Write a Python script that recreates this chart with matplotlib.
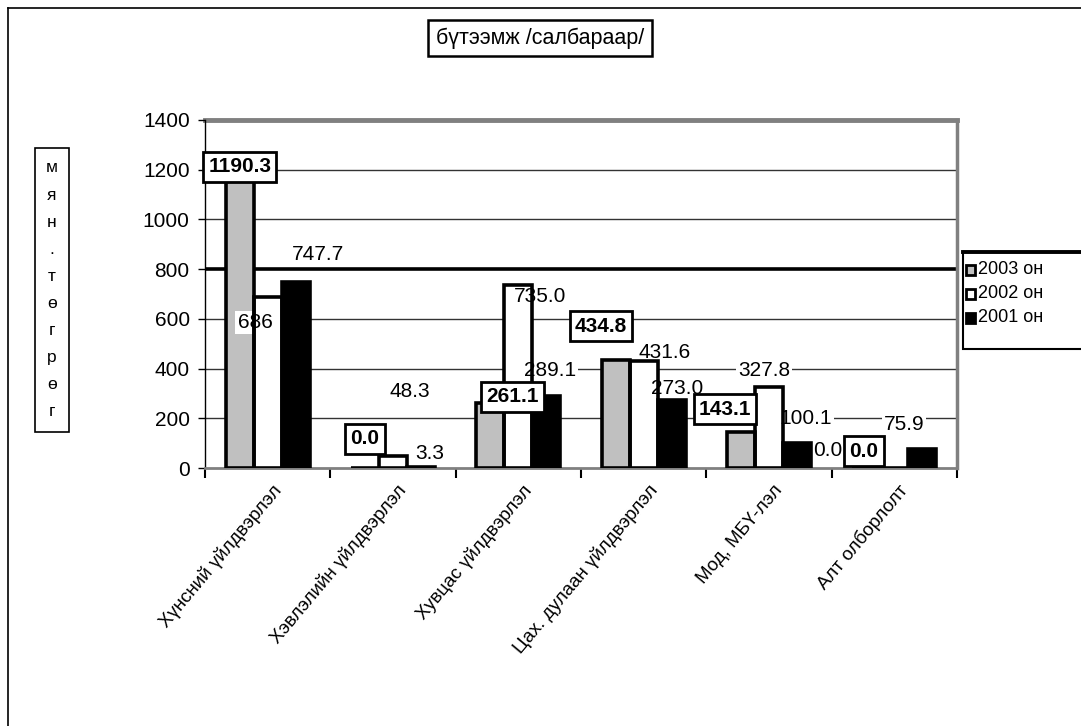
import matplotlib
matplotlib.use("Agg")
import matplotlib.pyplot as plt
import numpy as np
from matplotlib.patches import Rectangle
from matplotlib.lines import Line2D

plt.rcParams["font.family"] = ["Liberation Sans", "DejaVu Sans"]

categories = ["Хүнсний үйлдвэрлэл", "Хэвлэлийн үйлдвэрлэл", "Хувцас үйлдвэрлэл",
              "Цах. дулаан үйлдвэрлэл", "Мод, МБҮ-лэл", "Алт олборлолт"]
series_names = ["2003 он", "2002 он", "2001 он"]
v2003 = [1190.3, 0.0, 261.1, 434.8, 143.1, 0.0]
v2002 = [686, 48.3, 735.0, 431.6, 327.8, 0.0]
v2001 = [747.7, 3.3, 289.1, 273.0, 100.1, 75.9]
lab2003 = ["1190.3", "0.0", "261.1", "434.8", "143.1", "0.0"]
lab2002 = ["686", "48.3", "735.0", "431.6", "327.8", "0.0"]
lab2001 = ["747.7", "3.3", "289.1", "273.0", "100.1", "75.9"]
yticks = [0, 200, 400, 600, 800, 1000, 1200, 1400]

# label placement (offset from bar centre in category units, height in data units)
dx03 = [0.0, 0.0, 0.173, -0.117, -0.128, -0.019]
ly03 = [1211, 117, 286, 571, 237, 68]
dx02 = [-0.101, 0.136, 0.173, 0.170, -0.04, -0.529]
ly02 = [587, 306, 688, 463, 394, 72]
dx01 = [0.179, 0.072, 0.03, 0.043, 0.072, -0.146]
ly01 = [857, 60, 394, 318, 201, 173]

FILLS = ["#c0c0c0", "white", "black"]
W, H = 1081, 726

fig = plt.figure(figsize=(W / 100, H / 100), dpi=100)
fig.patch.set_facecolor("white")
ax = fig.add_axes([205 / W, 1 - 468 / H, (957 - 205) / W, (468 - 120) / H])

x = np.arange(len(categories))
w = 0.223
for k, (vals, fc) in enumerate(zip([v2003, v2002, v2001], FILLS)):
    # fill below the labels, outline above them (as in the scanned original)
    ax.bar(x + (k - 1) * w, vals, w, color=fc, linewidth=0, zorder=2)
    ax.bar(x + (k - 1) * w, vals, w, fill=False, edgecolor="black", linewidth=2.6, zorder=4)

ax.set_xlim(-0.5, len(categories) - 0.5)
ax.set_ylim(0, 1400)
ax.set_yticks(yticks)
ax.tick_params(axis="y", labelsize=15, length=5, direction="out", width=1, pad=6)
ax.set_xticks(np.arange(len(categories) + 1) - 0.5)
ax.set_xticklabels([])
ax.tick_params(axis="x", length=7, width=1.5, direction="out")
for i, c in enumerate(categories):
    ax.text(i + 0.03, -55, c, rotation=50, ha="right", va="top", rotation_mode="anchor",
            fontsize=13.5, color="black")

# grid lines
for yv in [200, 400, 600, 1000, 1200]:
    ax.axhline(yv, color="#333333", lw=1, zorder=1)
ax.axhline(800, color="black", lw=2.6, zorder=1)
ax.axhline(1400, color="#808080", lw=3.5, zorder=1, clip_on=False)
ax.spines["top"].set_visible(False)
ax.spines["right"].set_color("#808080")
ax.spines["right"].set_linewidth(2.5)
ax.spines["bottom"].set_color("#808080")
ax.spines["bottom"].set_linewidth(2)
ax.spines["left"].set_linewidth(1)

# data labels
for i in range(len(categories)):
    ax.text(i - w + dx03[i], ly03[i], lab2003[i], ha="center", va="center", fontsize=15,
            fontweight="bold", zorder=6,
            bbox=dict(boxstyle="square,pad=0.25", fc="white", ec="black", lw=2))
    ax.text(i + dx02[i], ly02[i], lab2002[i], ha="center", va="center", fontsize=15, zorder=3,
            bbox=dict(boxstyle="square,pad=0.1", fc="white", ec="none"))
    ax.text(i + w + dx01[i], ly01[i], lab2001[i], ha="center", va="center", fontsize=15,
            zorder=3, bbox=dict(boxstyle="square,pad=0.1", fc="white", ec="none"))

# title box
fig.text(540 / W, 1 - 38 / H, "бүтээмж /салбараар/", ha="center", va="center",
         fontsize=15.5, bbox=dict(boxstyle="square,pad=0.35", fc="white", ec="black", lw=1.8))

# vertical axis label box
fig.patches.append(Rectangle((35 / W, 1 - 432 / H), 34 / W, 284 / H,
                             transform=fig.transFigure, fc="white", ec="black", lw=1.2))
for j, ch in enumerate("мян.төгрөг"):
    fig.text(52 / W, 1 - (168 + 27.1 * j) / H, ch, ha="center", va="center", fontsize=12.5)

# legend, drawn by hand to match the original frame
fig.patches.append(Rectangle((963 / W, 1 - 349 / H), 130 / W, 97 / H,
                             transform=fig.transFigure, fc="white", ec="black", lw=1.5))
fig.lines.append(Line2D([963 / W, 1], [1 - 252 / H] * 2, transform=fig.transFigure,
                        color="black", lw=2.8))
for k, (name, fc) in enumerate(zip(series_names, FILLS)):
    yc = 270 + 24 * k
    fig.patches.append(Rectangle((966 / W, 1 - (yc + 5) / H), 9 / W, 10 / H,
                                 transform=fig.transFigure, fc=fc, ec="black", lw=2))
    fig.text(978 / W, 1 - yc / H, name, ha="left", va="center", fontsize=13)

# outer chart border
fig.lines.append(Line2D([8 / W, 8 / W], [0, 1 - 8 / H], transform=fig.transFigure,
                        color="black", lw=1.2))
fig.lines.append(Line2D([8 / W, 1], [1 - 8 / H, 1 - 8 / H], transform=fig.transFigure,
                        color="black", lw=1.2))

fig.savefig("out.png", dpi=100, facecolor="white")
plt.close(fig)
